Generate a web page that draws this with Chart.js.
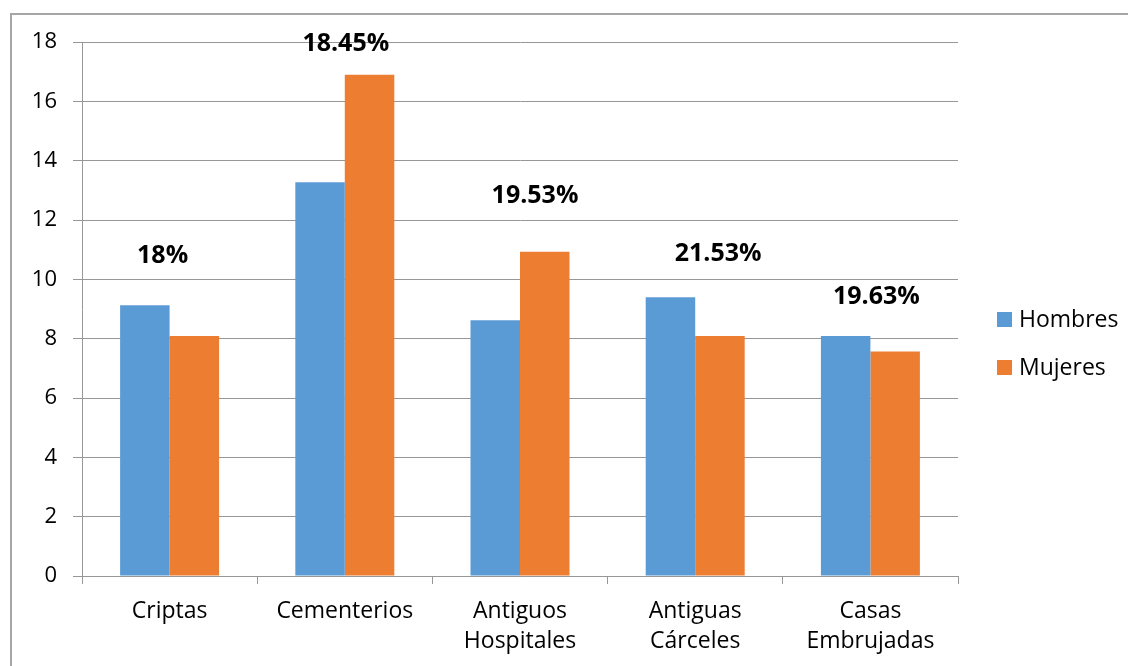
<!DOCTYPE html>
<html>
<head>
<meta charset="utf-8">
<script src="https://cdn.jsdelivr.net/npm/chart.js@4/dist/chart.umd.min.js"></script>
<style>
  html, body { margin: 0; padding: 0; background: #fff; overflow: hidden; }
  #wrap { position: relative; width: 1128px; height: 666px; }
  #frame { position: absolute; left: 10px; top: 13px; width: 1200px; height: 700px; border: 2px solid #a6a6a6; box-sizing: border-box; pointer-events: none; }
  canvas { position: absolute; left: 0; top: 0; }
</style>
</head>
<body>
<div id="wrap">
  <div id="frame"></div>
  <canvas id="chart" width="1128" height="666"></canvas>
</div>
<script>
// data
var categories = ["Criptas", "Cementerios", ["Antiguos", "Hospitales"], ["Antiguas", "Cárceles"], ["Casas", "Embrujadas"]];
var hombres = [9.13, 13.27, 8.62, 9.4, 8.09];
var mujeres = [8.09, 16.9, 10.93, 8.09, 7.57];
var pctLabels = ["18%", "18.45%", "19.53%", "21.53%", "19.63%"];
var pctLevel = [10.8, 17.95, 12.8, 10.85, 9.4]; // value-axis height each label sits at
var yTicks = [0, 2, 4, 6, 8, 10, 12, 14, 16, 18];

var FONT = "'Open Sans', Lato, sans-serif";
var GRID = "#979797";

// percentage labels above each group
var pctPlugin = {
    id: "pct",
    afterDatasetsDraw(chart) {
        let ctx = chart.ctx;
        let x = chart.scales.x, y = chart.scales.y;
        let shift = [-7, 1, 15, 23, 6];
        ctx.save();
        ctx.font = "bold 25px " + FONT;
        ctx.fillStyle = "#000";
        ctx.textAlign = "center";
        ctx.textBaseline = "middle";
        pctLabels.forEach((t, i) => {
            ctx.fillText(t, x.getPixelForValue(i) + shift[i], y.getPixelForValue(pctLevel[i]));
        });
        ctx.restore();
    }
};

// legend on the right, Excel style
var legendPlugin = {
    id: "sideLegend",
    afterDraw(chart) {
        let ctx = chart.ctx;
        ctx.save();
        ctx.font = "23px " + FONT;
        ctx.textBaseline = "middle";
        chart.data.datasets.forEach((ds, i) => {
            let cy = 320 + i * 48;
            ctx.fillStyle = ds.backgroundColor;
            ctx.fillRect(997, cy - 8, 15, 15);
            ctx.fillStyle = "#000";
            ctx.fillText(ds.label, 1019, cy);
        });
        ctx.restore();
    }
};

new Chart(document.getElementById("chart"), {
    type: "bar",
    data: {
        labels: categories,
        datasets: [
            { label: "Hombres", data: hombres, backgroundColor: "#5B9BD5" },
            { label: "Mujeres", data: mujeres, backgroundColor: "#ED7D31" }
        ]
    },
    options: {
        responsive: false,
        animation: false,
        categoryPercentage: 0.565,
        barPercentage: 1.0,
        layout: { padding: { top: 42, right: 170, bottom: 0, left: 0 } },
        plugins: {
            legend: { display: false },
            tooltip: { enabled: false }
        },
        scales: {
            x: {
                afterFit: (s) => { s.height = 90; },
                grid: { offset: true, drawOnChartArea: false, color: GRID, tickLength: 8 },
                border: { color: GRID },
                ticks: { color: "#000", padding: 12, font: { family: FONT, size: 23, lineHeight: 1.33 }, maxRotation: 0 }
            },
            y: {
                min: 0,
                max: 18,
                afterFit: (s) => { s.width = 82; },
                afterBuildTicks: (s) => { s.ticks = yTicks.map(v => ({ value: v })); },
                grid: { color: GRID, tickLength: 9 },
                border: { color: GRID },
                ticks: { color: "#000", padding: 16, font: { family: FONT, size: 22 } }
            }
        }
    },
    plugins: [pctPlugin, legendPlugin]
});
</script>
</body>
</html>
